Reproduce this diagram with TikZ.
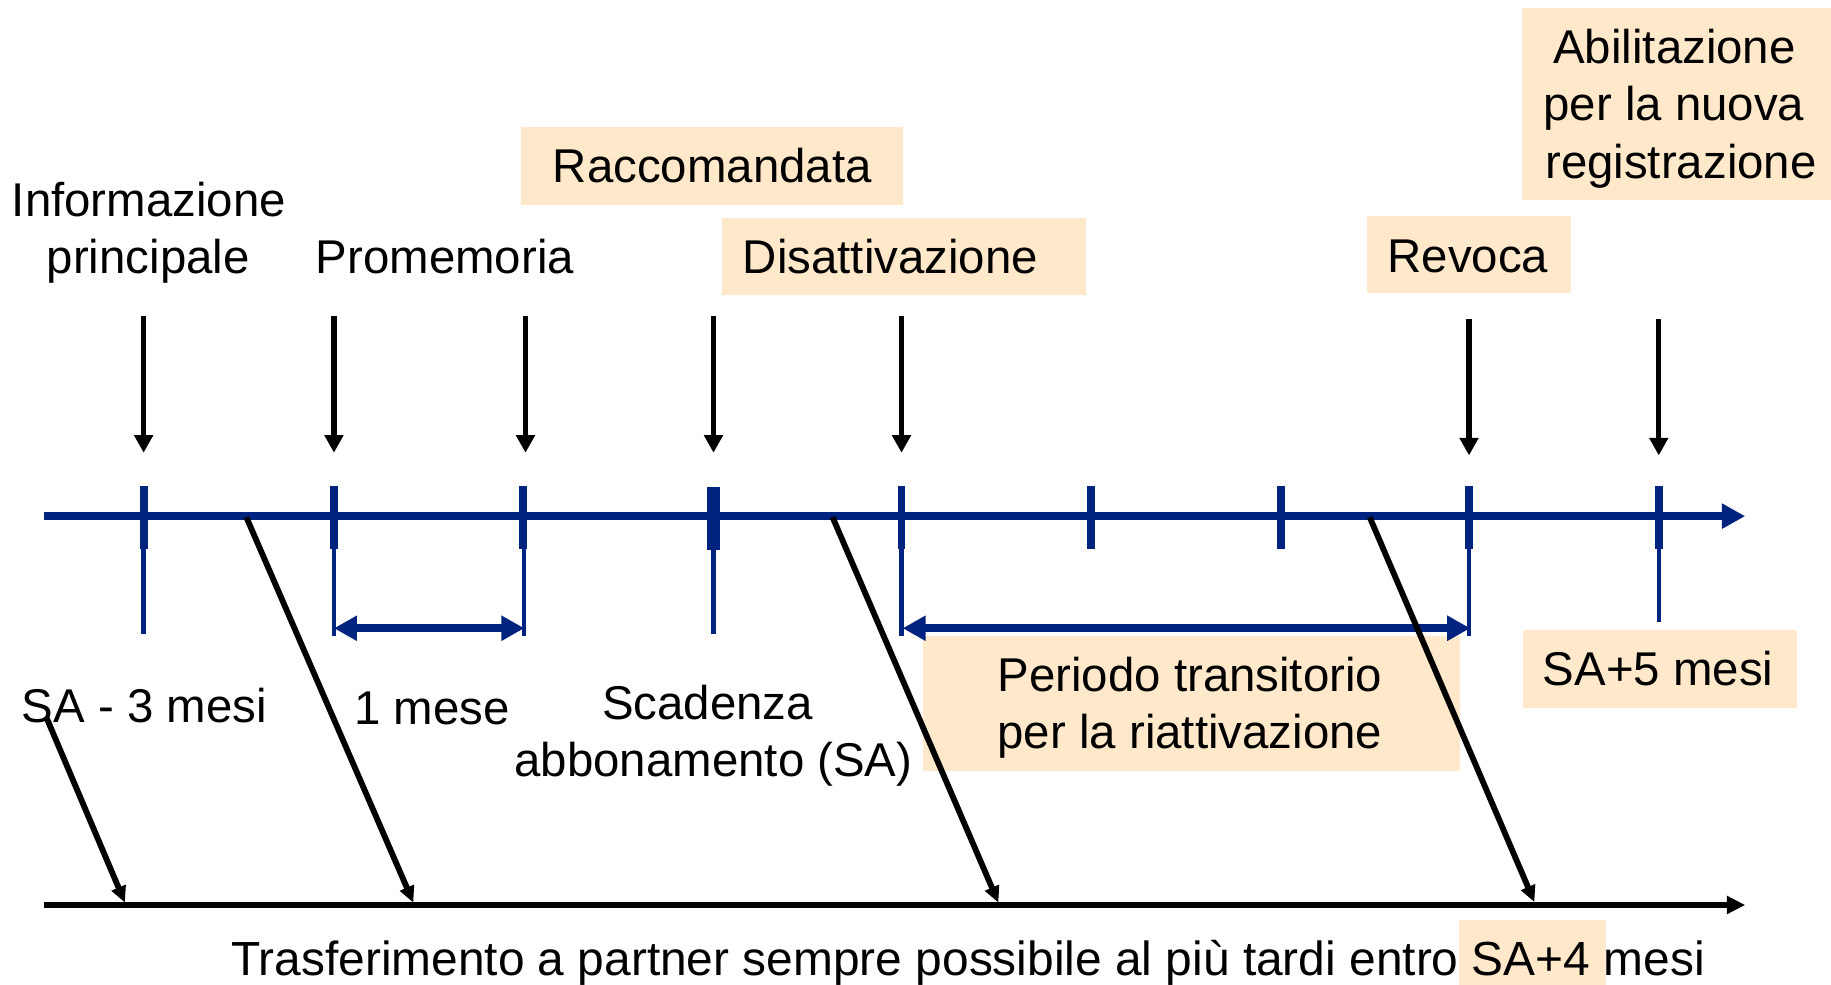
\documentclass[tikz,border=0pt]{standalone}
\usepackage{fontspec}
\setmainfont{Liberation Sans}
\usetikzlibrary{arrows.meta}
\definecolor{axisblue}{RGB}{0,35,128}
\definecolor{peach}{RGB}{255,233,202}
\begin{document}
\begin{tikzpicture}[x=1pt,y=-1pt,
  lbl/.style={font=\fontsize{40.6}{49}\selectfont, inner sep=0pt, anchor=base},
  hlbox/.style={fill=peach, draw=none, inner sep=0pt},
  axisline/.style={axisblue, line width=6.85pt, -{Triangle[length=20pt,width=20.5pt]}},
  bottomline/.style={black, line width=5.7pt, -{Triangle[length=15.7pt,width=14.8pt]}},
  tickmark/.style={axisblue, line width=6.85pt},
  thickmark/.style={axisblue, line width=10.5pt},
  thinline/.style={axisblue, line width=3.7pt},
  span/.style={axisblue, line width=7.2pt, {Triangle[length=19.7pt,width=20.5pt]}-{Triangle[length=19.7pt,width=20.5pt]}},
  downarrow/.style={black, line width=4.6pt, -{Triangle[length=15pt,width=15.5pt]}},
  diagarrow/.style={black, line width=5pt, -{Triangle[length=14pt,width=12.5pt]}}
]
\useasboundingbox (0,0) rectangle (1568,843.5);

% highlight boxes
\node[hlbox, minimum width=327pt, minimum height=67pt] (raccbox) at (609.5,142) {};
\node[hlbox, minimum width=312pt, minimum height=66pt] (disabox) at (774,220) {};
\node[hlbox, minimum width=174pt, minimum height=66pt] (revobox) at (1258,218) {};
\node[hlbox, minimum width=265pt, minimum height=164pt] (abibox) at (1435.5,89) {};
\node[hlbox, minimum width=460pt, minimum height=115pt] (perbox) at (1020,602.5) {};
\node[hlbox, minimum width=234.6pt, minimum height=66.5pt] (sa5box) at (1421.3,572.75) {};
\node[hlbox, minimum width=126pt, minimum height=55.5pt] (sa4box) at (1312,815.75) {};

% axes
\coordinate (axL) at (38,442);
\coordinate (axR) at (1494.5,442);
\draw[axisline] (axL) -- (axR);
\coordinate (bxL) at (38,775);
\coordinate (bxR) at (1494.5,775);
\draw[bottomline] (bxL) -- (bxR);

% ticks
\foreach \n/\x in {1/123,2/286,3/448,5/772,6/934,7/1097,8/1258,9/1420.5}{
  \coordinate (tt\n) at (\x,416);
  \coordinate (tb\n) at (\x,470);
  \draw[tickmark] (tt\n) -- (tb\n);
}
\coordinate (tt4) at (611,417);
\coordinate (tb4) at (611,471);
\draw[thickmark] (tt4) -- (tb4);

% thin lines below ticks
\foreach \n/\x/\e in {1/123/543,2/286/544.5,3/449/545,4/611/543,5/772/545,8/1258/545,9/1420.5/532.4}{
  \coordinate (ls\n) at (\x,470);
  \coordinate (le\n) at (\x,\e);
  \draw[thinline] (ls\n) -- (le\n);
}

% spans
\coordinate (s1a) at (286,538);
\coordinate (s1b) at (449,538);
\draw[span] (s1a) -- (s1b);
\coordinate (s2a) at (773,538);
\coordinate (s2b) at (1259,538);
\draw[span] (s2a) -- (s2b);

% downward arrows
\foreach \n/\x/\a/\b in {1/123/270.6/387.7,2/286/270.6/387.7,3/450/270.6/387.7,4/611/270.6/387.7,5/772/270.6/387.7,8/1258/273.5/390,9/1420.5/273.5/390}{
  \coordinate (da\n) at (\x,\a);
  \coordinate (db\n) at (\x,\b);
  \draw[downarrow] (da\n) -- (db\n);
}

% diagonal arrows
\coordinate (g1a) at (40,615);  \coordinate (g1b) at (107,773);
\coordinate (g2a) at (211,443); \coordinate (g2b) at (354,773);
\coordinate (g3a) at (713,443); \coordinate (g3b) at (855,773);
\coordinate (g4a) at (1173,443);\coordinate (g4b) at (1314,772.5);
\draw[diagarrow] (g1a) -- (g1b);
\draw[diagarrow] (g2a) -- (g2b);
\draw[diagarrow] (g3a) -- (g3b);
\draw[diagarrow] (g4a) -- (g4b);

% labels
\node[lbl] (inf1) at (127.5,185.5) {Informazione};
\node[lbl] (inf2) at (127,234.5) {principale};
\node[lbl] (prom) at (381,234.5) {Promemoria};
\node[lbl] (racc) at (610,156.5) {Raccomandata};
\node[lbl] (disa) at (762.5,234.5) {Disattivazione};
\node[lbl] (revo) at (1257,233) {Revoca};
\node[lbl] (abi1) at (1434,54) {Abilitazione};
\node[lbl] (abi2) at (1433.5,103.5) {per la nuova};
\node[lbl] (abi3) at (1439.5,153) {registrazione};
\node[lbl] (sa3) at (123.5,619) {SA - 3 mesi};
\node[lbl] (mese) at (370,620) {1 mese};
\node[lbl] (scad) at (606,616) {Scadenza};
\node[lbl] (abbo) at (611,665) {abbonamento (SA)};
\node[lbl] (per1) at (1019,592) {Periodo transitorio};
\node[lbl] (per2) at (1019,641) {per la riattivazione};
\node[lbl] (sa5) at (1420,587) {SA+5 mesi};
\node[lbl, font=\fontsize{41}{49}\selectfont] (trasf) at (829,835) {Trasferimento a partner sempre possibile al più tardi entro SA+4 mesi};
\end{tikzpicture}
\end{document}
